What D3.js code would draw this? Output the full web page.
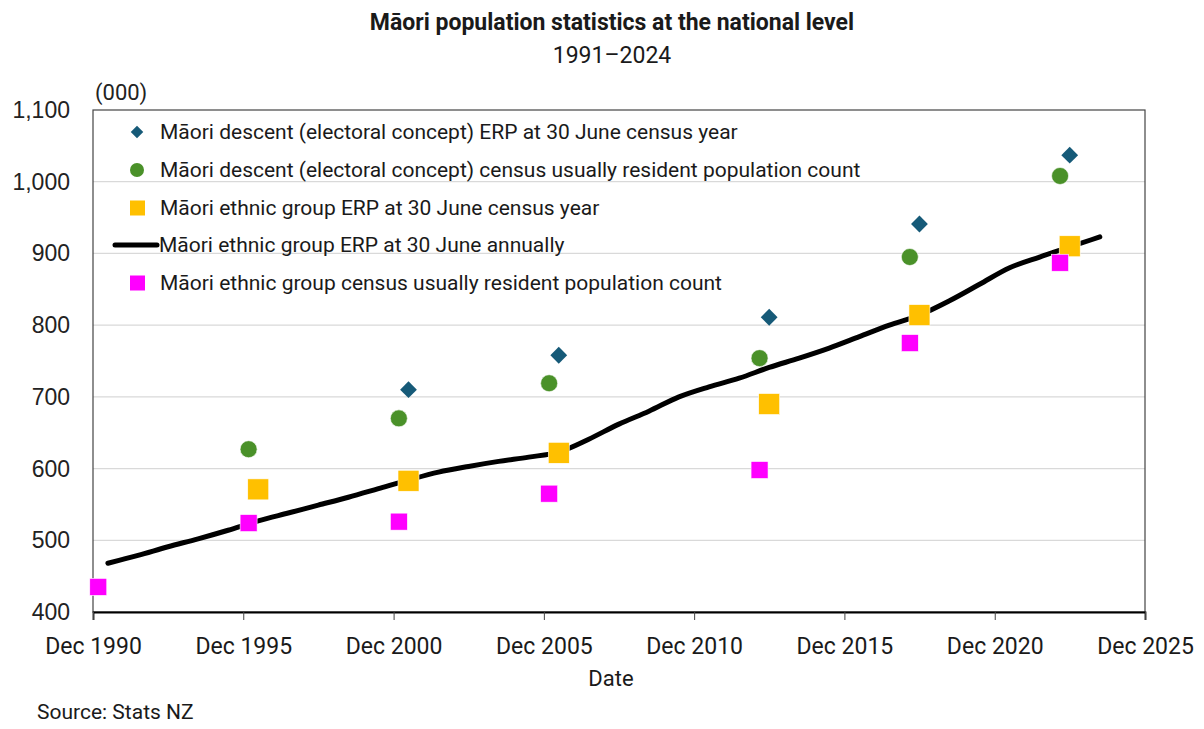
<!DOCTYPE html>
<html>
<head>
<meta charset="utf-8">
<script src="https://cdn.jsdelivr.net/npm/d3@7"></script>
<style>
  body { margin: 0; background: #fff; }
  svg { display: block; }
  .txt { font-family: Roboto, "Liberation Sans", sans-serif; }
  .ylab { font-family: "Liberation Sans", Arial, sans-serif; }
</style>
</head>
<body>
<div id="chart"></div>
<script>
// census years (early March) and June ERP years
const censusYears = [1991, 1996, 2001, 2006, 2013, 2018, 2023];
const ethnicCensus = [435, 524, 526, 565, 598, 775, 887];

const descentCensusYears = [1996, 2001, 2006, 2013, 2018, 2023];
const descentCensus = [627, 670, 719, 754, 895, 1008];

const descentErpYears = [2001, 2006, 2013, 2018, 2023];
const descentErp = [710, 758, 811, 941, 1037];

const ethnicErpYears = [1996, 2001, 2006, 2013, 2018, 2023];
const ethnicErp = [571, 583, 622, 690, 814, 910];

const annualYears = d3.range(1991, 2025);
const annualErp = [468, 479, 491, 502, 514, 527, 538, 549, 560, 572,
                   584, 595, 603, 610, 616, 623, 641, 662, 680, 700,
                   714, 726, 741, 754, 768, 784, 800, 814, 834, 857,
                   880, 895, 909, 923];

const yTicks = [400, 500, 600, 700, 800, 900, 1000, 1100];
const xTickYears = [1990, 1995, 2000, 2005, 2010, 2015, 2020, 2025];

const legendLabels = [
  "Māori descent (electoral concept) ERP at 30 June census year",
  "Māori descent (electoral concept) census usually resident population count",
  "Māori ethnic group ERP at 30 June census year",
  "Māori ethnic group ERP at 30 June annually",
  "Māori ethnic group census usually resident population count"
];

const colors = { diamond: "#165a78", circle: "#4a9129", yellow: "#ffc000", pink: "#ff00ff" };

const W = 1204, H = 729;
const margin = { top: 110, right: 59, bottom: 117, left: 93 };
const width = W - margin.left - margin.right;
const height = H - margin.top - margin.bottom;

const censusDate = y => new Date(y, 2, 5);
const juneDate = y => new Date(y, 5, 30);

const svg = d3.select("#chart").append("svg")
  .attr("width", W).attr("height", H);

// titles
svg.append("text").attr("class", "txt")
  .attr("x", 612).attr("y", 30).attr("text-anchor", "middle")
  .attr("font-size", 23).attr("font-weight", "bold").attr("fill", "#1a1a1a")
  .text("Māori population statistics at the national level");
svg.append("text").attr("class", "txt")
  .attr("x", 612).attr("y", 63).attr("text-anchor", "middle")
  .attr("font-size", 23).attr("fill", "#1a1a1a")
  .text("1991–2024");

const g = svg.append("g").attr("transform", `translate(${margin.left},${margin.top})`);

const x = d3.scaleTime()
  .domain([new Date(1990, 11, 31), new Date(2025, 11, 31)])
  .range([0, width]);
const y = d3.scaleLinear().domain([400, 1100]).range([height, 0]);

// gridlines
g.append("g").selectAll("line").data(yTicks.slice(1, -1)).join("line")
  .attr("x1", 0).attr("x2", width)
  .attr("y1", d => y(d)).attr("y2", d => y(d))
  .attr("stroke", "#d9d9d9").attr("stroke-width", 1.3);

// frame
g.append("rect").attr("x", 0).attr("y", 0).attr("width", width).attr("height", height)
  .attr("fill", "none").attr("stroke", "#444").attr("stroke-width", 1.2);

// y labels
g.append("g").selectAll("text").data(yTicks).join("text")
  .attr("class", "ylab")
  .attr("x", -23).attr("y", d => y(d)).attr("dy", "0.35em")
  .attr("text-anchor", "end").attr("font-size", 23).attr("fill", "#222")
  .text(d => d3.format(",")(d));

svg.append("text").attr("class", "txt")
  .attr("x", 95).attr("y", 100).attr("font-size", 22).attr("fill", "#222")
  .text("(000)");

// x axis
const xAxis = d3.axisBottom(x)
  .tickValues(xTickYears.map(yy => new Date(yy, 11, 31)))
  .tickFormat(d => "Dec " + d.getFullYear())
  .tickSize(8).tickPadding(18);
const gx = g.append("g").attr("transform", `translate(0,${height})`).call(xAxis);
gx.select(".domain").attr("stroke", "#000").attr("stroke-width", 1.8);
gx.selectAll(".tick line").attr("stroke", "#444");
gx.selectAll("text").attr("class", "txt").attr("font-size", 23).attr("fill", "#1a1a1a");

svg.append("text").attr("class", "txt")
  .attr("x", 611).attr("y", 686).attr("text-anchor", "middle")
  .attr("font-size", 22).attr("fill", "#1a1a1a").text("Date");
svg.append("text").attr("class", "txt")
  .attr("x", 37).attr("y", 719)
  .attr("font-size", 21).attr("fill", "#1a1a1a").text("Source: Stats NZ");

// annual line
const line = d3.line()
  .x((d, i) => x(juneDate(annualYears[i])))
  .y(d => y(d))
  .curve(d3.curveMonotoneX);
g.append("path").datum(annualErp).attr("d", line)
  .attr("fill", "none").attr("stroke", "#000").attr("stroke-width", 5)
  .attr("stroke-linecap", "round");

// markers
function squares(years, vals, dateFn, size, color) {
  g.append("g").selectAll("rect").data(vals).join("rect")
    .attr("x", (d, i) => x(dateFn(years[i])) - size / 2)
    .attr("y", d => y(d) - size / 2)
    .attr("width", size).attr("height", size)
    .attr("fill", color).attr("stroke", "#fff").attr("stroke-width", 0.6);
}
squares(ethnicErpYears, ethnicErp, juneDate, 21, colors.yellow);
squares(censusYears, ethnicCensus, censusDate, 17, colors.pink);

g.append("g").selectAll("circle").data(descentCensus).join("circle")
  .attr("cx", (d, i) => x(censusDate(descentCensusYears[i])))
  .attr("cy", d => y(d)).attr("r", 8.5)
  .attr("fill", colors.circle).attr("stroke", "#fff").attr("stroke-width", 0.6);

const diamond = d3.symbol().type(d3.symbolDiamond2).size(180);
g.append("g").selectAll("path").data(descentErp).join("path")
  .attr("transform", (d, i) => `translate(${x(juneDate(descentErpYears[i]))},${y(d)})`)
  .attr("d", diamond).attr("fill", colors.diamond);

// legend
const legendY = [132, 170, 208, 245, 283];
const lg = svg.append("g");
lg.append("path").attr("d", d3.symbol().type(d3.symbolDiamond2).size(100)())
  .attr("transform", `translate(137,${legendY[0]})`).attr("fill", colors.diamond);
lg.append("circle").attr("cx", 137).attr("cy", legendY[1]).attr("r", 7).attr("fill", colors.circle);
lg.append("rect").attr("x", 130).attr("y", legendY[2] - 7.5).attr("width", 15).attr("height", 15).attr("fill", colors.yellow);
lg.append("line").attr("x1", 115).attr("x2", 157).attr("y1", legendY[3]).attr("y2", legendY[3])
  .attr("stroke", "#000").attr("stroke-width", 5).attr("stroke-linecap", "round");
lg.append("rect").attr("x", 130).attr("y", legendY[4] - 7.5).attr("width", 15).attr("height", 15).attr("fill", colors.pink);

lg.selectAll("text").data(legendLabels).join("text")
  .attr("class", "txt")
  .attr("x", (d, i) => i === 3 ? 159 : 160)
  .attr("y", (d, i) => legendY[i]).attr("dy", "0.35em")
  .attr("font-size", 21).attr("fill", "#1a1a1a")
  .text(d => d);
</script>
</body>
</html>
